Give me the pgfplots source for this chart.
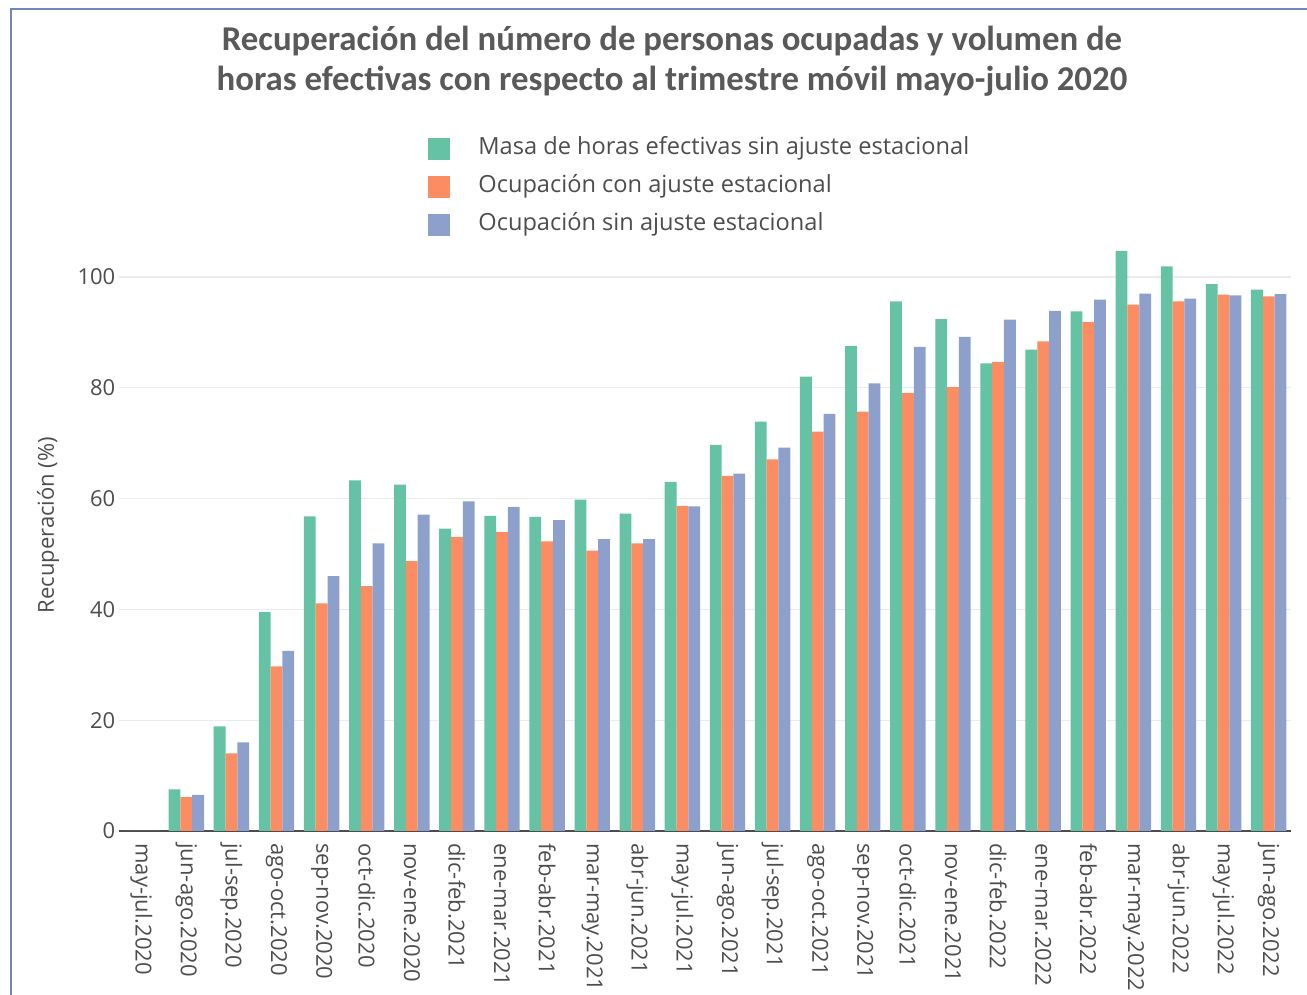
\documentclass[border=0pt]{standalone}
\usepackage{pgfplots}
\usepackage{pgfplotstable}
\pgfplotsset{compat=1.18}
\usepackage{fontspec}
\setmainfont{Open Sans}
\newfontfamily\titlefont{Carlito}

\definecolor{cgreen}{HTML}{66C2A5}
\definecolor{corange}{HTML}{FC8D62}
\definecolor{cblue}{HTML}{8DA0CB}
\definecolor{txt}{HTML}{4D4D4D}
\definecolor{ttl}{HTML}{595959}
\definecolor{gridc}{HTML}{EBEBEB}
\definecolor{framec}{HTML}{6F88B8}

% trimestre, masa de horas, ocupacion con ajuste, ocupacion sin ajuste
\pgfplotstableread{
x  g     o     b
0  0     0     0
1  7.5   6.1   6.5
2  18.9  14.0  16.0
3  39.5  29.7  32.5
4  56.8  41.1  46.0
5  63.3  44.2  51.9
6  62.5  48.7  57.1
7  54.6  53.1  59.5
8  56.9  54.0  58.5
9  56.7  52.3  56.1
10 59.8  50.6  52.7
11 57.3  51.9  52.7
12 63.0  58.7  58.6
13 69.7  64.1  64.5
14 73.9  67.1  69.2
15 82.0  72.1  75.3
16 87.5  75.7  80.8
17 95.6  79.1  87.4
18 92.4  80.1  89.2
19 84.4  84.7  92.3
20 86.9  88.4  93.9
21 93.8  91.9  95.9
22 104.7 95.0  97.0
23 101.9 95.6  96.1
24 98.7  96.8  96.7
25 97.7  96.5  96.9
}\datos

\begin{document}
\begin{tikzpicture}
\path[use as bounding box] (-59.35pt,-82pt) rectangle (594.15pt,415.5pt);
\begin{axis}[
  scale only axis,
  width=586.25pt, height=304.7pt,
  ybar=0pt, bar width=5.9pt,
  xmin=-0.5, xmax=25.5,
  ymin=0, ymax=110,
  xtick={0,...,25},
  xticklabels={may-jul.2020,jun-ago.2020,jul-sep.2020,ago-oct.2020,sep-nov.2020,oct-dic.2020,nov-ene.2020,dic-feb.2021,ene-mar.2021,feb-abr.2021,mar-may.2021,abr-jun.2021,may-jul.2021,jun-ago.2021,jul-sep.2021,ago-oct.2021,sep-nov.2021,oct-dic.2021,nov-ene.2021,dic-feb.2022,ene-mar.2022,feb-abr.2022,mar-may.2022,abr-jun.2022,may-jul.2022,jun-ago.2022},
  ytick={0,20,40,60,80,100},
  ymajorgrids, grid style={gridc, line width=0.6pt},
  major tick length=0pt,
  axis x line*=bottom, axis y line*=left,
  x axis line style={draw=txt, line width=0.9pt, -},
  y axis line style={draw=none},
  tick label style={font=\fontsize{11}{13}\selectfont, text=txt},
  /pgf/number format/assume math mode=true,
  xticklabel style={rotate=-90, anchor=west, inner xsep=6pt},
  yticklabel style={inner xsep=1.5pt},
  ylabel={Recuperación (\%)},
  every axis y label/.style={at={(axis description cs:-0.0603,0.502)}, rotate=90, anchor=center, font=\fontsize{11}{13}\selectfont, text=txt},
  title={Recuperación del número de personas ocupadas y volumen de\\horas efectivas con respecto al trimestre móvil mayo-julio 2020},
  title style={at={(axis description cs:0.4719,1.2439)}, anchor=center, align=center, font=\titlefont\bfseries\fontsize{17.4}{20}\selectfont, text=ttl},
  legend style={at={(axis description cs:0.2638,1.1372)}, anchor=north west, draw=none, fill=none, inner sep=0pt,
    font=\fontsize{11.8}{14}\selectfont, text=txt, row sep=8pt,
    nodes={inner sep=0pt, text height=8pt, text depth=2.5pt},
    /tikz/every odd column/.append style={column sep=14pt}},
  legend cell align=left,
  legend image code/.code={\fill[#1] (0pt,-5.5pt) rectangle (11pt,5.5pt);},
]
\addplot[fill=cgreen, draw=none] table[x=x, y=g] {\datos};
\addplot[fill=corange, draw=none] table[x=x, y=o] {\datos};
\addplot[fill=cblue, draw=none] table[x=x, y=b] {\datos};
\legend{Masa de horas efectivas sin ajuste estacional, Ocupación con ajuste estacional, Ocupación sin ajuste estacional}
\end{axis}
\draw[framec, line width=1.4pt] (-53.85pt,-82pt) -- (-53.85pt,411pt) -- (594.15pt,411pt);
\fill[framec] (-54.55pt,410.3pt) rectangle (594.15pt,411.7pt);
\end{tikzpicture}
\end{document}
